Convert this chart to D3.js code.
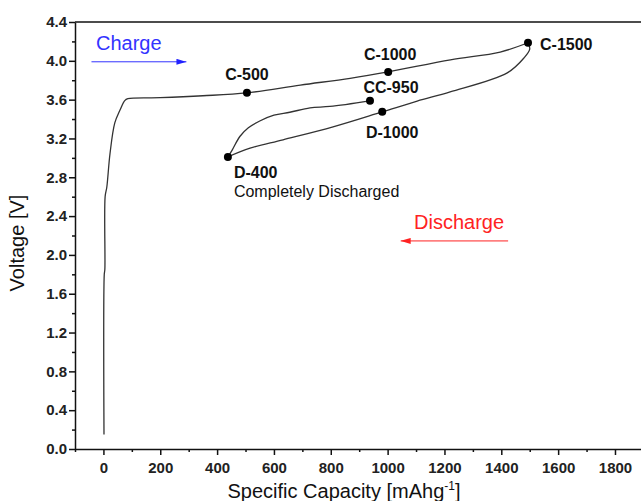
<!DOCTYPE html>
<html lang="en">
<head>
<meta charset="UTF-8">
<title>Voltage vs Specific Capacity</title>
<script src="https://d3js.org/d3.v7.min.js"></script>
<style>
  body { margin: 0; background: #fff; }
  svg { font-family: "Liberation Sans", Arial, sans-serif; display: block; }
</style>
</head>
<body>
<div id="chart"></div>
<script>
// first charge, from 0 mAh/g up to C-1500
const chargeCap = [2, 3, 5, 6, 12, 23, 40, 58, 75, 86, 200, 350, 505, 693, 868, 1002, 1221, 1396, 1494];
const chargeV   = [0.15, 1.8, 1.85, 2.6, 2.7, 3.04, 3.36, 3.49, 3.59, 3.61, 3.62, 3.64, 3.67, 3.75, 3.82, 3.886, 4.01, 4.09, 4.186];

// discharge, from C-1500 down to D-400
const dischargeCap = [1494, 1500, 1480, 1421, 1220, 1104, 981, 808, 632, 516, 438];
const dischargeV   = [4.186, 4.12, 4.03, 3.876, 3.68, 3.585, 3.474, 3.32, 3.186, 3.10, 3.01];

// recharge, from D-400 up to CC-950
const rechargeCap = [438, 453, 480, 510, 550, 600, 656, 727, 797, 938];
const rechargeV   = [3.01, 3.08, 3.22, 3.31, 3.38, 3.44, 3.47, 3.515, 3.53, 3.588];

const pointNames = ["C-500", "C-1000", "C-1500", "CC-950", "D-1000", "D-400"];
const pointCap   = [505, 1002, 1494, 938, 981, 438];
const pointV     = [3.67, 3.886, 4.186, 3.588, 3.474, 3.01];

const xTicks = [0, 200, 400, 600, 800, 1000, 1200, 1400, 1600, 1800];
const yTicks = [0.0, 0.4, 0.8, 1.2, 1.6, 2.0, 2.4, 2.8, 3.2, 3.6, 4.0, 4.4];

const W = 641, H = 501;
const svg = d3.select("#chart").append("svg")
    .attr("width", W)
    .attr("height", H);

const x = d3.scaleLinear().domain([-100, 1900]).range([75, 643.4]);
const y = d3.scaleLinear().domain([0, 4.4]).range([449, 22]);

// arrow heads
const defs = svg.append("defs");
[["blueHead", "#2222ff"], ["redHead", "#ff2222"]].forEach(([id, c]) => {
    defs.append("marker")
        .attr("id", id)
        .attr("viewBox", "0 0 10 6")
        .attr("refX", 10).attr("refY", 3)
        .attr("markerWidth", 10).attr("markerHeight", 6)
        .attr("markerUnits", "userSpaceOnUse")
        .attr("orient", "auto")
        .append("path").attr("d", "M0,0 L10,3 L0,6 Z").attr("fill", c);
});

// axes
const xMinor = d3.range(-100, 1901, 100).filter(v => v % 200 !== 0);
const yMinor = d3.range(1, 22, 2).map(i => +(i * 0.2).toFixed(1));

svg.append("g").attr("transform", `translate(0,${y(0)})`)
    .call(d3.axisBottom(x).tickValues(xMinor).tickSize(3).tickFormat(""))
    .call(g => g.select(".domain").remove());
svg.append("g").attr("class", "axis").attr("transform", `translate(0,${y(0)})`)
    .call(d3.axisBottom(x).tickValues(xTicks).tickSize(6).tickSizeOuter(0).tickPadding(7).tickFormat(d3.format("d")));

svg.append("g").attr("transform", `translate(${x(-100)},0)`)
    .call(d3.axisLeft(y).tickValues(yMinor).tickSize(3).tickFormat(""))
    .call(g => g.select(".domain").remove());
svg.append("g").attr("class", "axis").attr("transform", `translate(${x(-100)},0)`)
    .call(d3.axisLeft(y).tickValues(yTicks).tickSize(6).tickSizeOuter(0).tickPadding(2).tickFormat(d3.format(".1f")));

svg.selectAll(".axis text").attr("font-size", 15).attr("font-weight", "bold")
    .attr("font-family", "Liberation Sans, Arial, sans-serif").attr("fill", "#222");
svg.selectAll(".tick line").attr("stroke", "#111").attr("stroke-width", 1.5);
svg.selectAll(".domain").attr("stroke", "#111").attr("stroke-width", 1.5);

// top frame line
svg.append("line")
    .attr("x1", x(-100)).attr("x2", x(1900))
    .attr("y1", y(4.4)).attr("y2", y(4.4))
    .attr("stroke", "#111").attr("stroke-width", 1.5);

// curves
const line = d3.line().x(d => x(d[0])).y(d => y(d[1])).curve(d3.curveCatmullRom.alpha(0.5));
[[chargeCap, chargeV], [dischargeCap, dischargeV], [rechargeCap, rechargeV]].forEach(([c, v]) => {
    svg.append("path")
        .datum(c.map((d, i) => [d, v[i]]))
        .attr("d", line)
        .attr("fill", "none")
        .attr("stroke", "#333")
        .attr("stroke-width", 1.3);
});

// marked points
const pts = pointNames.map((n, i) => ({ name: n, cap: pointCap[i], v: pointV[i] }));
svg.selectAll("circle.pt").data(pts).enter().append("circle")
    .attr("class", "pt")
    .attr("cx", d => x(d.cap)).attr("cy", d => y(d.v))
    .attr("r", 4).attr("fill", "#000");

// point labels: offset relative to each marker
const labelOffset = {
    "C-500":  [0, -13, "middle"],
    "C-1000": [2, -12, "middle"],
    "C-1500": [12, 7, "start"],
    "CC-950": [21, -8, "middle"],
    "D-1000": [10, 26, "middle"],
    "D-400":  [6, 21, "start"]
};
svg.selectAll("text.pt").data(pts).enter().append("text")
    .attr("class", "pt")
    .attr("x", d => x(d.cap) + labelOffset[d.name][0])
    .attr("y", d => y(d.v) + labelOffset[d.name][1])
    .attr("text-anchor", d => labelOffset[d.name][2])
    .attr("font-size", 16).attr("font-weight", "bold").attr("fill", "#111")
    .text(d => d.name);

svg.append("text")
    .attr("x", x(438) + 6).attr("y", y(3.01) + 40)
    .attr("font-size", 16).attr("fill", "#111")
    .text("Completely Discharged");

// charge / discharge annotations
svg.append("text").attr("x", x(-26)).attr("y", y(4.11))
    .attr("font-size", 20).attr("fill", "#3333ff").text("Charge");
svg.append("line")
    .attr("x1", x(-42)).attr("x2", x(292)).attr("y1", y(3.99)).attr("y2", y(3.99))
    .attr("stroke", "#3333ff").attr("stroke-width", 1).attr("marker-end", "url(#blueHead)");

svg.append("text").attr("x", x(1093)).attr("y", y(2.27))
    .attr("font-size", 20).attr("fill", "#ff2222").text("Discharge");
svg.append("line")
    .attr("x1", x(1424)).attr("x2", x(1046)).attr("y1", y(2.144)).attr("y2", y(2.144))
    .attr("stroke", "#ff2222").attr("stroke-width", 1).attr("marker-end", "url(#redHead)");

// axis titles
svg.append("text")
    .attr("transform", `translate(24,243) rotate(-90)`)
    .attr("text-anchor", "middle").attr("font-size", 20).attr("fill", "#111")
    .text("Voltage [V]");

const xt = svg.append("text")
    .attr("x", 344).attr("y", 498)
    .attr("text-anchor", "middle").attr("font-size", 20).attr("fill", "#111")
    .text("Specific Capacity [mAhg");
xt.append("tspan").attr("font-size", 12).attr("dy", -8).text("-1");
xt.append("tspan").attr("dy", 8).text("]");
</script>
</body>
</html>
